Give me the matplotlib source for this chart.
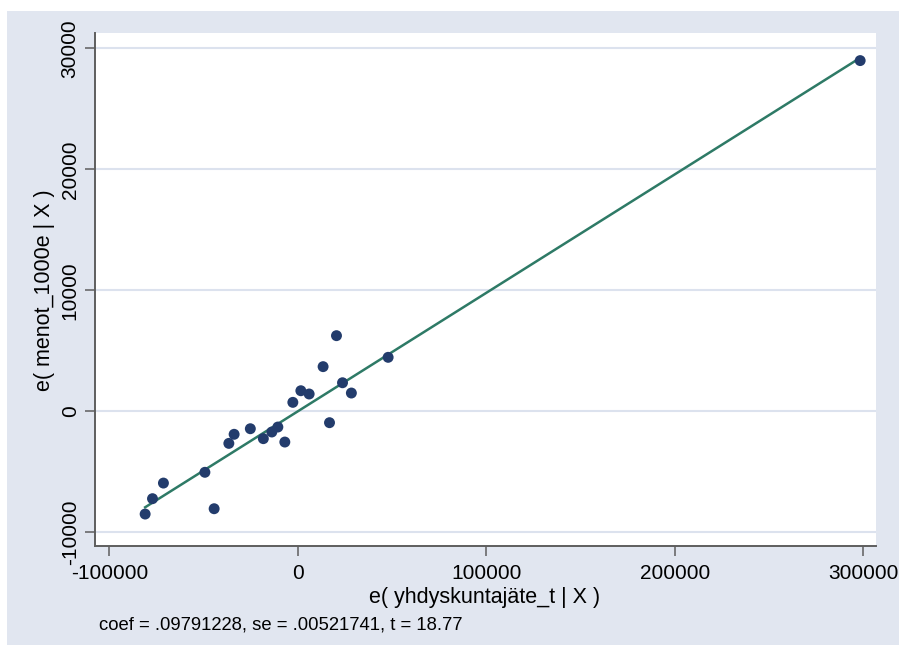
import numpy as np
import matplotlib
matplotlib.use("Agg")
import matplotlib.pyplot as plt
from matplotlib.patches import Rectangle

# ---------------------------------------------------------------------------
# Data
# ---------------------------------------------------------------------------
x_resid = [-81000, -77100, -71300, -49300, -44400, -36600, -33800, -25200,
           -18300, -13800, -10600, -6900, -2650, 1600, 6000, 13400, 16800,
           20500, 23700, 28400, 47900, 298300]
y_resid = [-8490, -7220, -5930, -5040, -8050, -2650, -1900, -1440,
           -2260, -1710, -1300, -2540, 740, 1700, 1430, 3690, -940,
           6250, 2360, 1510, 4460, 28980]
coef = 0.09791228
se = 0.00521741
t_stat = 18.77

x_ticks = [-100000, 0, 100000, 200000, 300000]
y_ticks = [-10000, 0, 10000, 20000, 30000]

# ---------------------------------------------------------------------------
# Style
# ---------------------------------------------------------------------------
plt.rcParams["font.family"] = ["Liberation Sans", "DejaVu Sans"]
BG = "#E1E6F0"
GRID = "#DCE2EE"
MARK = "#233C6C"
FIT = "#2E7A66"
SPINE = "#5E5E5E"

W, H = 899, 652
fig = plt.figure(figsize=(W / 100, H / 100), dpi=100, facecolor="white")
fig.patches.append(Rectangle((7 / W, (H - 645) / H), (W - 7) / W, 634 / H,
                             transform=fig.transFigure, facecolor=BG,
                             edgecolor="none", zorder=-10))

ax = fig.add_axes([95 / W, (H - 546) / H, 781 / W, 513 / H])
ax.set_facecolor("white")

x = np.array(x_resid, dtype=float)
y = np.array(y_resid, dtype=float)

ax.scatter(x, y, s=62, color=MARK, edgecolors="none", zorder=3)
xl = np.array([x.min(), x.max()])
ax.plot(xl, coef * xl, color=FIT, linewidth=1.8, zorder=2)

ax.set_xlim(-107600, 306700)
ax.set_ylim(-11130, 31260)
ax.set_xticks(x_ticks)
ax.set_yticks(y_ticks)
ax.set_xticklabels([str(v) for v in x_ticks])
ax.set_yticklabels([str(v) for v in y_ticks])

ax.yaxis.grid(True, color=GRID, linewidth=1.5)
ax.xaxis.grid(False)
ax.set_axisbelow(True)

for side in ["top", "right"]:
    ax.spines[side].set_visible(False)
for side in ["left", "bottom"]:
    ax.spines[side].set_color(SPINE)
    ax.spines[side].set_linewidth(1.4)

ax.tick_params(axis="both", direction="out", length=7, width=1.1,
               color=SPINE, labelsize=15, labelcolor="black")
ax.tick_params(axis="x", pad=6)
ax.tick_params(axis="y", pad=4)
plt.setp(ax.get_yticklabels(), rotation=90, va="center")

fig.text(485 / W, 1 - 597 / H, "e( yhdyskuntajäte_t | X )", fontsize=15.5,
         ha="center", va="center")
fig.text(45 / W, 1 - 290 / H, "e( menot_1000e | X )", fontsize=15.5,
         rotation=90, ha="center", va="center")
fig.text(99 / W, 1 - 625 / H,
         f"coef = .{str(coef).split('.')[1]}, se = .{str(se).split('.')[1]}, t = {t_stat:.2f}",
         fontsize=13.3, ha="left", va="center")

fig.savefig("out.png", dpi=100, facecolor="white")
